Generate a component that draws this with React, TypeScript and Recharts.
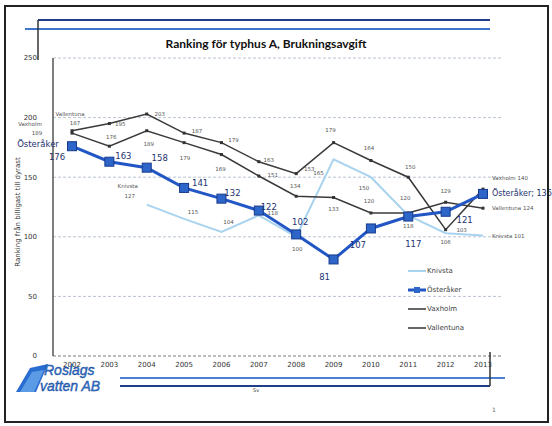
import React from 'react';
import { LineChart, Line, XAxis, YAxis, CartesianGrid, Legend, LabelList } from 'recharts';

// values
const years = ['2002', '2003', '2004', '2005', '2006', '2007', '2008', '2009', '2010', '2011', '2012', '2013'];
const knivsta = [null, null, 127, 115, 104, 118, 100, 165, 150, 118, 103, 101];
const osteraker = [176, 163, 158, 141, 132, 122, 102, 81, 107, 117, 121, 136];
const vaxholm = [189, 195, 203, 187, 179, 163, 153, 179, 164, 150, 106, 140];
const vallentuna = [187, 176, 189, 179, 169, 151, 134, 133, 120, 120, 129, 124];
const yTicks = [0, 50, 100, 150, 200, 250];

const data = years.map((year, i) => ({
    year,
    Knivsta: knivsta[i],
    'Österåker': osteraker[i],
    Vaxholm: vaxholm[i],
    Vallentuna: vallentuna[i],
}));

// label offsets [dx, dy] per point (style only)
const OST_OFF = [[-15, 11], [14, -6], [13, -10], [16, -5], [11, -6], [10, -4], [4, -12], [-9, 18], [-13, 17], [5, 27], [19, 8], [0, 0]];
const VAX_OFF = [[-35, 2], [11, 0], [13, 0], [13, -2], [12, -3], [10, -2], [13, -5], [-3, -13], [-2, -13], [2, -10], [0, 12], [0, -11]];
const VAL_OFF = [[3, -10], [2, -9], [2, 13], [1, 15], [-1, 14], [14, -1], [-1, -10], [0, 12], [-2, -12], [-3, -15], [0, -11], [0, 0]];
const KNI_OFF = [[0, 0], [0, 0], [-17, -9], [9, -7], [7, -10], [14, -2], [1, 12], [-15, 14], [-7, 11], [0, 11], [16, -3], [0, 0]];

const NAVY = '#1c3270';
const FONT = '"DejaVu Sans", sans-serif';

function makeLabel(name: string, offs: number[][], size: number, color: string, nameOff: number[], endSize: number) {
    return (props: any) => {
        const { x, y, value, index } = props;
        if (value == null || x == null || y == null) return null;
        const first = (name === 'Knivsta' ? 2 : 0) === index;
        const last = index === years.length - 1;
        if (last) {
            return (
                <text x={x + 9} y={y + offs[index][1]} fontSize={endSize} fill={color} fontFamily={FONT} dominantBaseline="central">
                    {name === 'Österåker' ? `${name}; ${value}` : `${name} ${value}`}
                </text>
            );
        }
        const [dx, dy] = offs[index];
        return (
            <g>
                {first && (
                    <text x={x + nameOff[0]} y={y + nameOff[1]} fontSize={size} fill={color} fontFamily={FONT}
                        textAnchor="middle" dominantBaseline="central">{name}</text>
                )}
                <text x={x + dx} y={y + dy} fontSize={size} fill={color} fontFamily={FONT}
                    textAnchor="middle" dominantBaseline="central">{value}</text>
            </g>
        );
    };
}

const SquareDot = (props: any) => {
    const { cx, cy, index } = props;
    if (cx == null || cy == null) return <g key={`o-${index}`} />;
    return <rect key={`o-${index}`} x={cx - 4.5} y={cy - 4.5} width={9} height={9} fill="#2d65c9" stroke="#163a8c" strokeWidth={1} />;
};

const SmallDot = (props: any) => {
    const { cx, cy, index, dataKey } = props;
    if (cx == null || cy == null) return <g key={`${dataKey}-${index}`} />;
    return <rect key={`${dataKey}-${index}`} x={cx - 1.5} y={cy - 1.5} width={3} height={3} fill="#333" />;
};

const LEGEND_ITEMS = [
    { name: 'Knivsta', color: '#a9d3ee', width: 2, marker: false },
    { name: 'Österåker', color: '#2156c4', width: 3, marker: true },
    { name: 'Vaxholm', color: '#333', width: 1.5, marker: false },
    { name: 'Vallentuna', color: '#333', width: 1.5, marker: false },
];

const renderLegend = () => (
    <div style={{ fontFamily: FONT, fontSize: 7, color: '#444' }}>
        {LEGEND_ITEMS.map((item) => (
            <div key={item.name} style={{ display: 'flex', alignItems: 'center', height: 19 }}>
                <svg width={18} height={8}>
                    <line x1={0} y1={4} x2={18} y2={4} stroke={item.color} strokeWidth={item.width} />
                    {item.marker && <rect x={6} y={1} width={6} height={6} fill="#2d65c9" />}
                </svg>
                <span style={{ marginLeft: 1 }}>{item.name}</span>
            </div>
        ))}
    </div>
);

export default function App() {
    return (
        <div style={{ position: 'absolute', left: 0, top: 0, width: 552, height: 426, background: '#fff', overflow: 'hidden' }}>
            <LineChart width={552} height={426} data={data} margin={{ top: 58, right: 50, bottom: 40, left: 0 }}>
                <CartesianGrid vertical={false} stroke="#b9c3d0" strokeDasharray="3 2" />
                <XAxis
                    dataKey="year"
                    height={30}
                    padding={{ left: 19, right: 19 }}
                    tickLine={false}
                    tickSize={0}
                    tickMargin={6}
                    axisLine={{ stroke: '#999', strokeDasharray: '3 2' }}
                    tick={{ fontSize: 7, fill: '#333', fontFamily: FONT }}
                    interval={0}
                />
                <YAxis
                    width={53}
                    domain={[0, 250]}
                    ticks={yTicks}
                    tickLine={false}
                    tickSize={0}
                    tickMargin={16}
                    axisLine={{ stroke: '#555', strokeWidth: 1.5 }}
                    tick={{ fontSize: 7, fill: '#333', fontFamily: FONT }}
                    label={{ value: 'Ranking från billigast till dyrast', angle: -90, position: 'center', dx: -9, dy: 5, fontSize: 7, fill: '#333', fontFamily: FONT }}
                />
                <Line type="linear" dataKey="Knivsta" stroke="#a9d3ee" strokeWidth={2} dot={false} isAnimationActive={false}>
                    <LabelList dataKey="Knivsta" content={makeLabel('Knivsta', KNI_OFF, 5.5, '#555', [-19, -19], 5.5)} />
                </Line>
                <Line type="linear" dataKey="Vallentuna" stroke="#3a3a3a" strokeWidth={1.5} dot={SmallDot} isAnimationActive={false}>
                    <LabelList dataKey="Vallentuna" content={makeLabel('Vallentuna', VAL_OFF, 5.5, '#555', [-2, -19], 5.5)} />
                </Line>
                <Line type="linear" dataKey="Vaxholm" stroke="#3a3a3a" strokeWidth={1.5} dot={SmallDot} isAnimationActive={false}>
                    <LabelList dataKey="Vaxholm" content={makeLabel('Vaxholm', VAX_OFF, 5.5, '#555', [-42, -7], 5.5)} />
                </Line>
                <Line type="linear" dataKey="Österåker" stroke="#2156c4" strokeWidth={3} dot={SquareDot} isAnimationActive={false}>
                    <LabelList dataKey="Österåker" content={makeLabel('Österåker', OST_OFF, 8.5, NAVY, [-34, -2], 8)} />
                </Line>
                <Legend
                    layout="vertical"
                    align="center"
                    verticalAlign="middle"
                    content={renderLegend}
                    wrapperStyle={{ position: 'absolute', left: 408, top: 261, width: 90 }}
                />
            </LineChart>

            {/* slide decoration: frame, title, blue rules, logo */}
            <svg width={552} height={426} style={{ position: 'absolute', left: 0, top: 0, pointerEvents: 'none' }}>
                <rect x={5} y={6} width={543} height={416} fill="none" stroke="#222" strokeWidth={2} />
                <line x1={38} y1={20} x2={490} y2={20} stroke="#1f3c88" strokeWidth={2} />
                <line x1={25} y1={29} x2={490} y2={29} stroke="#3d74cc" strokeWidth={2} />
                <line x1={38} y1={20} x2={38} y2={60} stroke="#333" strokeWidth={1.5} />
                <text x={266} y={48} textAnchor="middle" fontFamily="Lato, sans-serif" fontWeight={700} fontSize={12} fill="#111">
                    Ranking för typhus A, Brukningsavgift
                </text>
                <line x1={120} y1={378} x2={505} y2={378} stroke="#4a80d2" strokeWidth={2} />
                <line x1={120} y1={386} x2={490} y2={386} stroke="#1f3c88" strokeWidth={2} />
                <line x1={490} y1={352} x2={490} y2={386} stroke="#333" strokeWidth={1.5} />
                <text x={253} y={392} fontSize={5} fill="#444" fontFamily={FONT}>Sv</text>
                <text x={492} y={412} fontSize={6} fill="#666" fontFamily={FONT}>1</text>
                <polygon points="16,392 30,368 48,364 36,392" fill="#2a6dd0" />
                <polygon points="20,392 32,372 44,370 34,392" fill="#5b9be6" />
                <text x={44} y={375} fontFamily="Liberation Sans, sans-serif" fontStyle="italic" fontSize={14} fill="#2f78d8" stroke="#173f8a" strokeWidth={0.4}>Roslags</text>
                <text x={40} y={391} fontFamily="Liberation Sans, sans-serif" fontStyle="italic" fontSize={14} fill="#2f78d8" stroke="#173f8a" strokeWidth={0.4}>vatten AB</text>
            </svg>
        </div>
    );
}
